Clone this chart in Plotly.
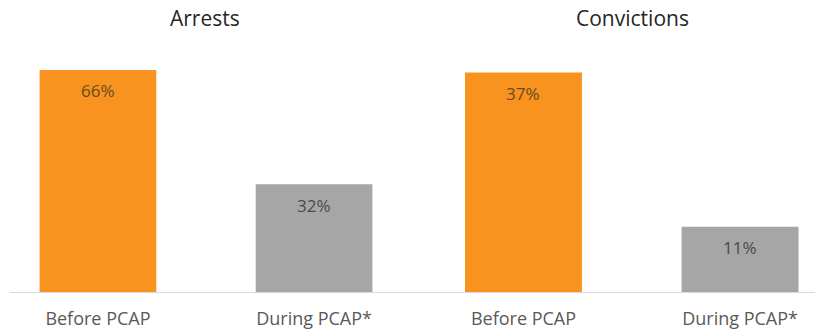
import plotly.graph_objects as go

# Share of cases before and during the programme
categories = ["Before PCAP", "During PCAP*"]
panel_titles = ["Arrests", "Convictions"]
arrests = [66, 32]
convictions = [37, 11]
value_labels_arrests = ["66%", "32%"]
value_labels_convictions = ["37%", "11%"]

bar_colors = ["#F7931E", "#A6A6A6"]
label_colors = ["#6b4a1e", "#4a4a4a"]
FONT = "Open Sans"

W, H = 817, 329
fig = go.Figure()

panels = [
    (arrests, value_labels_arrests, "x", "y"),
    (convictions, value_labels_convictions, "x2", "y2"),
]
for values, labels, xa, ya in panels:
    fig.add_trace(go.Bar(
        x=categories, y=values, xaxis=xa, yaxis=ya,
        marker=dict(color=bar_colors, line=dict(width=0)),
        width=0.54, hoverinfo="skip", showlegend=False,
    ))
    for cat, v, lab, col in zip(categories, values, labels, label_colors):
        fig.add_annotation(
            x=cat, y=v, xref=xa, yref=ya, text=lab, showarrow=False,
            yanchor="middle", yshift=-21,
            font=dict(family=FONT, size=17, color=col),
        )

dom1 = [10 / W, 418 / W]
dom2 = [418 / W, 815 / W]
axis_common = dict(
    type="category", showgrid=False, zeroline=False, showline=True,
    linecolor="#D9D9D9", linewidth=1, ticks="",
    tickfont=dict(family=FONT, size=18, color="#595959"),
    ticklabelstandoff=10, fixedrange=True,
)
yaxis_common = dict(visible=False, showgrid=False, zeroline=False, fixedrange=True)

fig.update_layout(
    width=W, height=H,
    margin=dict(l=0, r=0, t=40, b=37),
    paper_bgcolor="white", plot_bgcolor="white",
    xaxis=dict(domain=dom1, range=[-0.407, 1.481], anchor="y", **axis_common),
    xaxis2=dict(domain=dom2, range=[-0.487, 1.346], anchor="y2", **axis_common),
    yaxis=dict(range=[0, 74.9], anchor="x", **yaxis_common),
    yaxis2=dict(range=[0, 42.5], anchor="x2", **yaxis_common),
)

# Panel titles centred over each pair of bars
title_pos = [(205 - 10) / 408, (632 - 418) / 397]
for title, xa, xpos in zip(panel_titles, ["x", "x2"], title_pos):
    fig.add_annotation(
        x=xpos, y=1, xref=f"{xa} domain", yref="paper", text=title,
        showarrow=False, yanchor="middle", yshift=22,
        font=dict(family=FONT, size=21, color="#262626"),
    )

fig.write_html("out.html")
